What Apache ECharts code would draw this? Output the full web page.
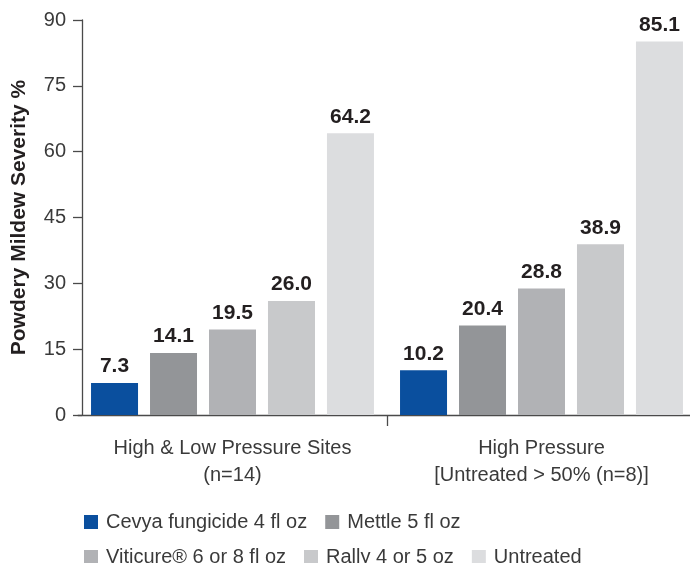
<!DOCTYPE html>
<html>
<head>
<meta charset="utf-8">
<script src="https://cdn.jsdelivr.net/npm/echarts@6/dist/echarts.min.js"></script>
<style>html,body{margin:0;padding:0;background:#fff}#c{width:690px;height:563px}</style>
</head>
<body>
<div id="c"></div>
<script>
var categories = ['High & Low Pressure Sites\n(n=14)', 'High Pressure\n[Untreated > 50% (n=8)]'];
var seriesNames = ['Cevya fungicide 4 fl oz', 'Mettle 5 fl oz', 'Viticure® 6 or 8 fl oz', 'Rally 4 or 5 oz', 'Untreated'];
var cevya = [7.3, 10.2];
var mettle = [14.1, 20.4];
var viticure = [19.5, 28.8];
var rally = [26.0, 38.9];
var untreated = [64.2, 85.1];
var yTicks = [0, 15, 30, 45, 60, 75, 90];

var colors = ['#0a4f9e', '#939598', '#b1b2b5', '#c8c9cb', '#dcdddf'];
var values = [cevya, mettle, viticure, rally, untreated];
var font = 'Liberation Sans, Arial, sans-serif';

var series = seriesNames.map(function (n, i) {
  return {
    name: n,
    type: 'bar',
    data: values[i],
    barWidth: 47,
    barGap: '25.5%',
    itemStyle: { color: colors[i] },
    label: {
      show: true,
      position: 'top',
      distance: 6,
      fontFamily: font,
      fontWeight: 'bold',
      fontSize: 21,
      color: '#231f20',
      formatter: function (p) { return p.value.toFixed(1); }
    }
  };
});

var legendText = { fontFamily: font, fontSize: 20, color: '#3a3a3a', padding: [0, 0, 0, 3] };
var chart = echarts.init(document.getElementById('c'));
chart.setOption({
  animation: false,
  grid: { left: 78, right: -6, top: 20, bottom: 148, outerBoundsMode: 'none', containLabel: false },
  legend: [
    { data: seriesNames.slice(0, 2), left: 79, top: 507, icon: 'rect', itemWidth: 14, itemHeight: 14, itemGap: 18, textStyle: legendText, selectedMode: false },
    { data: seriesNames.slice(2), left: 79, top: 542, icon: 'rect', itemWidth: 14, itemHeight: 14, itemGap: 18, textStyle: legendText, selectedMode: false }
  ],
  xAxis: [
    {
      type: 'category',
      data: categories,
      axisLine: { lineStyle: { color: '#4a4a4a', width: 1.3 } },
      axisTick: { show: false },
      axisLabel: { interval: 0, hideOverlap: false, fontFamily: font, fontSize: 20, color: '#3a3a3a', lineHeight: 27, margin: 20 }
    },
    {
      type: 'value',
      position: 'bottom',
      offset: 0,
      min: 0, max: categories.length, interval: 1,
      splitLine: { show: false },
      axisLine: { show: false },
      axisLabel: { show: false },
      axisTick: { show: true, length: 11, customValues: [1], lineStyle: { color: '#4a4a4a', width: 1.3 } }
    }
  ],
  yAxis: {
    type: 'value',
    min: 0, max: 90, interval: 15,
    offset: -4,
    name: 'Powdery Mildew Severity %',
    nameLocation: 'middle',
    nameGap: 52,
    nameTextStyle: { fontFamily: font, fontWeight: 'bold', fontSize: 21, color: '#231f20' },
    splitLine: { show: false },
    axisLine: { show: true, lineStyle: { color: '#4a4a4a', width: 1.3 } },
    axisTick: { show: true, length: 9, lineStyle: { color: '#4a4a4a', width: 1.3 } },
    axisLabel: {
      fontFamily: font, fontSize: 20, color: '#3a3a3a', margin: 16,
      formatter: function (v) { return yTicks.indexOf(v) >= 0 ? String(v) : ''; }
    }
  },
  series: series
});
</script>
</body>
</html>
